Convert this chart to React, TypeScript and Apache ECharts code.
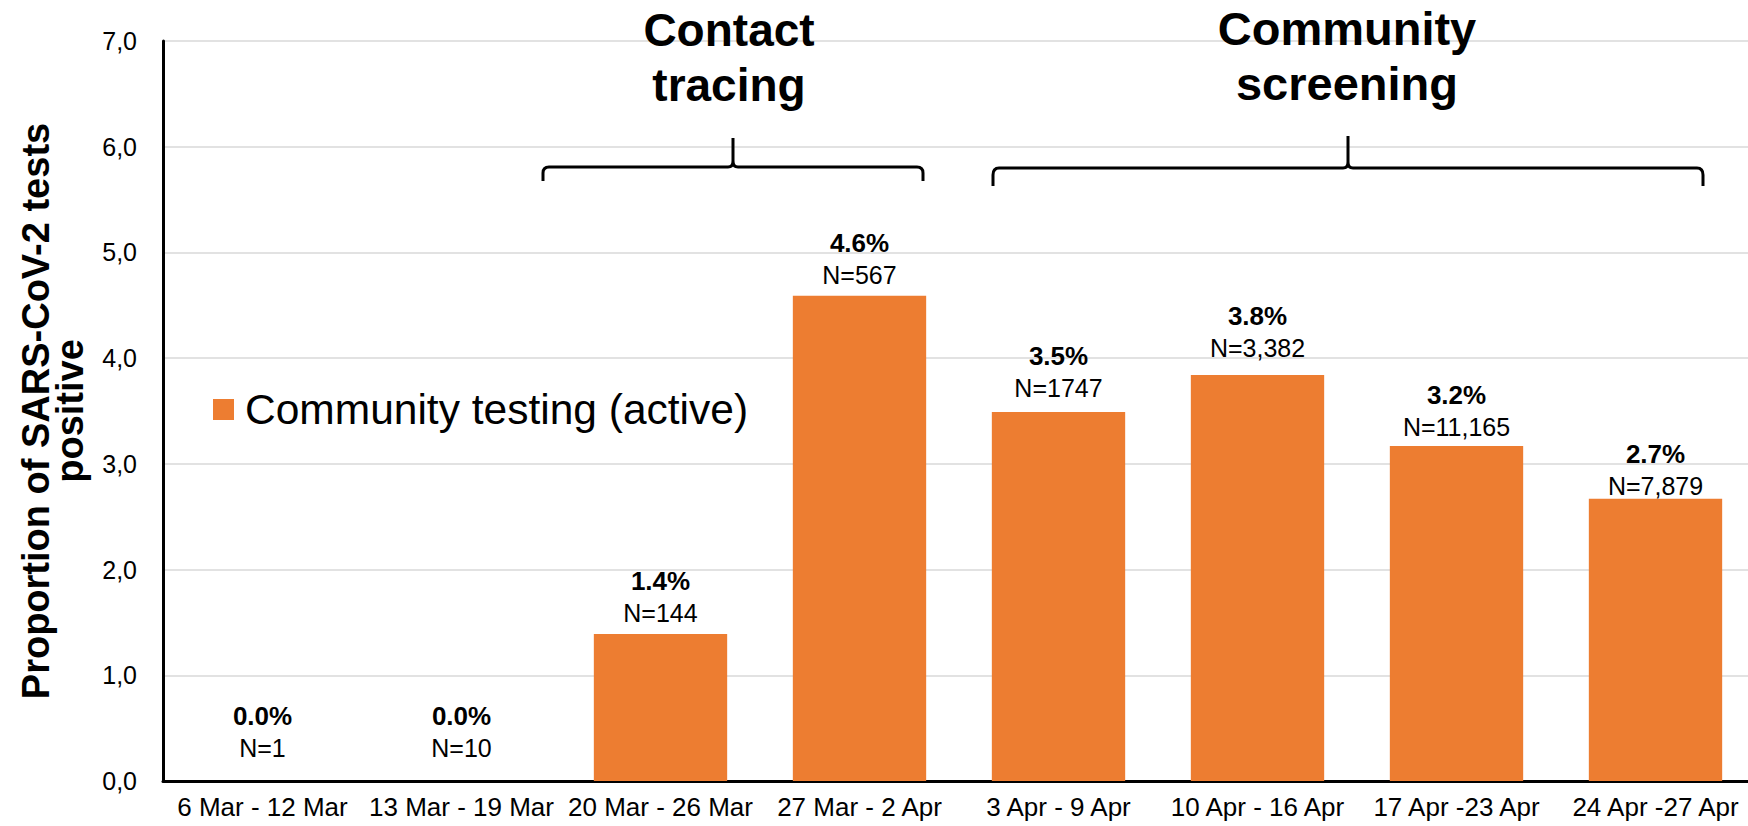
import React, { useEffect, useRef } from "react";
import * as echarts from "echarts";

const categories = [
  "6 Mar - 12 Mar",
  "13 Mar - 19 Mar",
  "20 Mar - 26 Mar",
  "27 Mar - 2 Apr",
  "3 Apr - 9 Apr",
  "10 Apr - 16 Apr",
  "17 Apr -23 Apr",
  "24 Apr -27 Apr",
];
const positivity = [0, 0, 1.39, 4.59, 3.49, 3.84, 3.17, 2.67];
const pctLabels = ["0.0", "0.0", "1.4", "4.6", "3.5", "3.8", "3.2", "2.7"];
const testCounts = ["1", "10", "144", "567", "1747", "3,382", "11,165", "7,879"];
const yTicks = [0, 1, 2, 3, 4, 5, 6, 7];
const seriesName = "Community testing (active)";
const groupTitles = ["Contact\ntracing", "Community\nscreening"];

// label placement styling (distance above bar top)
const labelDistance = [17, 17, 5, 5, 8, 11, 3, -3];

const FONT = '"Liberation Sans", Arial, Helvetica, sans-serif';

let registered = false;
function registerBraces() {
  if (registered) return;
  registered = true;
  const b1 =
    "M543,181 L543,173 Q543,167 549,167 L728,167 Q733,167 733,161 L733,138 L733,161 Q733,167 738,167 L917,167 Q923,167 923,173 L923,181";
  const b2 =
    "M993,186 L993,175 Q993,168 999,168 L1343,168 Q1348,168 1348,162 L1348,136 L1348,162 Q1348,168 1353,168 L1697,168 Q1703,168 1703,175 L1703,186";
  echarts.graphic.registerShape("brace1", echarts.graphic.extendPath(b1, {}));
  echarts.graphic.registerShape("brace2", echarts.graphic.extendPath(b2, {}));
}

export default function App() {
  const ref = useRef<HTMLDivElement>(null);
  useEffect(() => {
    if (!ref.current) return;
    registerBraces();
    const chart = echarts.init(ref.current, null, { renderer: "svg" });
    const option: any = {
      animation: false,
      textStyle: { fontFamily: FONT },
      grid: {
        left: 163,
        right: -7,
        top: 41,
        bottom: 45,
        containLabel: false,
        outerBoundsMode: "none",
      },
      legend: {
        data: [seriesName],
        left: 208,
        top: 383,
        icon: "rect",
        itemWidth: 21,
        itemHeight: 21,
        textStyle: {
          fontSize: 42.5,
          color: "#000",
          fontFamily: FONT,
          padding: [0, 0, 0, 6],
        },
      },
      xAxis: {
        type: "category",
        data: categories,
        axisTick: { show: false },
        axisLine: { lineStyle: { color: "#000", width: 3 } },
        axisLabel: {
          interval: 0,
          fontSize: 26,
          color: "#000",
          margin: 13,
          fontFamily: FONT,
        },
      },
      yAxis: {
        type: "value",
        min: yTicks[0],
        max: yTicks[yTicks.length - 1],
        interval: 1,
        name: "Proportion of SARS-CoV-2 tests\npositive",
        nameLocation: "middle",
        nameGap: 76,
        nameTextStyle: {
          fontSize: 38,
          fontWeight: "bold",
          color: "#000",
          lineHeight: 34,
          fontFamily: FONT,
        },
        axisLine: { show: true, lineStyle: { color: "#000", width: 3 } },
        axisTick: { show: false },
        splitLine: { lineStyle: { color: "#d9d9d9", width: 1.5 } },
        axisLabel: {
          fontSize: 25,
          color: "#000",
          margin: 26,
          fontFamily: FONT,
          formatter: (v: number) => v.toFixed(1).replace(".", ","),
        },
      },
      series: [
        {
          name: seriesName,
          type: "bar",
          barWidth: "67%",
          itemStyle: { color: "#ED7D31" },
          data: positivity.map((v, i) => ({
            value: v,
            label: {
              show: true,
              position: "top",
              distance: labelDistance[i],
              formatter: `{p|${pctLabels[i]}%}\n{n|N=${testCounts[i]}}`,
              rich: {
                p: {
                  fontSize: 26,
                  fontWeight: "bold",
                  color: "#000",
                  lineHeight: 32,
                  fontFamily: FONT,
                },
                n: {
                  fontSize: 25,
                  color: "#000",
                  lineHeight: 32,
                  fontFamily: FONT,
                },
              },
            },
          })),
        },
      ],
      graphic: [
        {
          type: "text",
          x: 729,
          y: 2,
          z: 100,
          style: {
            text: groupTitles[0],
            fontSize: 46,
            fontWeight: "bold",
            fontFamily: FONT,
            fill: "#000",
            align: "center",
            verticalAlign: "top",
            lineHeight: 55,
          },
        },
        {
          type: "text",
          x: 1347,
          y: 1,
          z: 100,
          style: {
            text: groupTitles[1],
            fontSize: 47,
            fontWeight: "bold",
            fontFamily: FONT,
            fill: "#000",
            align: "center",
            verticalAlign: "top",
            lineHeight: 55,
          },
        },
        {
          type: "brace1",
          x: 0,
          y: 0,
          z: 100,
          style: { stroke: "#000", lineWidth: 3, fill: "none" },
        },
        {
          type: "brace2",
          x: 0,
          y: 0,
          z: 100,
          style: { stroke: "#000", lineWidth: 3, fill: "none" },
        },
      ],
    };
    chart.setOption(option);
    return () => chart.dispose();
  }, []);
  return (
    <div
      ref={ref}
      style={{ position: "absolute", left: 0, top: 0, width: 1748, height: 826, background: "#fff" }}
    />
  );
}
